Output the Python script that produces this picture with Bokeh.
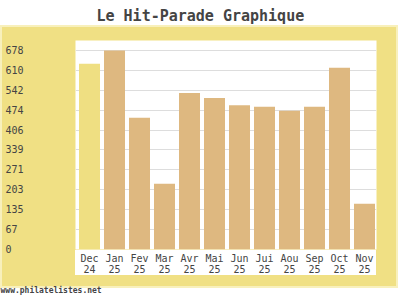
from bokeh.plotting import figure
from bokeh.models import Range1d, FixedTicker, Title
from bokeh.embed import file_html
from bokeh.resources import INLINE

categories = ["Dec\n24", "Jan\n25", "Fev\n25", "Mar\n25", "Avr\n25", "Mai\n25",
              "Jun\n25", "Jui\n25", "Aou\n25", "Sep\n25", "Oct\n25", "Nov\n25"]
values = [633, 678, 449, 224, 533, 516, 491, 486, 473, 486, 619, 156]
y_ticks = [0, 67.8, 135.6, 203.4, 271.2, 339.0, 406.8, 474.6, 542.4, 610.2, 678.0]
y_tick_labels = ["0", "67", "135", "203", "271", "339", "406", "474", "542", "610", "678"]

TAN = "#DEB880"
YEL = "#EFDF82"
colors = [YEL] + [TAN] * (len(values) - 1)
idx = list(range(len(categories)))

SHIFT = 7  # figure is lifted by this many pixels so the title sits near the top
bg = {
    "margin-top": f"-{SHIFT}px",
    "background-image": "linear-gradient(#ffffff,#ffffff), linear-gradient(#F0E084,#F0E084), linear-gradient(#F8F0BC,#F8F0BC)",
    "background-position": f"75px {250 + SHIFT}px, 2px {27 + SHIFT}px, 0px {25 + SHIFT}px",
    "background-size": "301px 25px, 394px 259px, 398px 263px",
    "background-repeat": "no-repeat",
}

p = figure(width=400, height=300 + SHIFT, output_backend="svg", toolbar_location=None,
           x_range=Range1d(-0.56, 11.48), y_range=Range1d(0, 711.9),
           min_border_left=75, min_border_right=24, min_border_top=40 + SHIFT, min_border_bottom=50,
           border_fill_color=None, background_fill_color="white", outline_line_color=None,
           styles=bg)

p.title.text = "Le Hit-Parade Graphique"
p.title.text_font = "DejaVu Sans Mono"
p.title.text_font_size = "15px"
p.title.text_font_style = "bold"
p.title.align = "left"
p.title.offset = 21
p.title.vertical_align = "top"
p.title.standoff = 27

p.vbar(x=idx, top=values, width=0.84, color=colors, line_color=None)

xaxis = p.xaxis[0]
xaxis.ticker = FixedTicker(ticks=idx)
xaxis.major_label_overrides = {i: c for i, c in zip(idx, categories)}
xaxis.axis_line_color = None
xaxis.major_tick_line_color = None
xaxis.minor_tick_line_color = None
xaxis.major_tick_out = 0
xaxis.major_tick_in = 0
xaxis.major_label_text_font = "DejaVu Sans Mono"
xaxis.major_label_text_font_size = "10px"
xaxis.major_label_text_line_height = 1.0
xaxis.major_label_standoff = 3

FS = "\u2007"  # figure space keeps labels left-aligned in a fixed-width font
yaxis = p.yaxis[0]
yaxis.ticker = FixedTicker(ticks=y_ticks)
yaxis.major_label_overrides = {t: l.ljust(3, FS) for t, l in zip(y_ticks, y_tick_labels)}
yaxis.axis_line_color = None
yaxis.major_tick_line_color = None
yaxis.minor_tick_line_color = None
yaxis.major_tick_out = 0
yaxis.major_tick_in = 0
yaxis.major_label_text_font = "DejaVu Sans Mono"
yaxis.major_label_text_font_size = "10px"
yaxis.major_label_standoff = 52

p.ygrid.grid_line_color = "#DDDDDD"
p.xgrid.grid_line_color = None

foot = Title(text="www.philatelistes.net", align="left", offset=-75,
             text_font="DejaVu Sans Mono", text_font_size="8px", text_font_style="bold",
             vertical_align="bottom", standoff=12)
p.add_layout(foot, "below")

open("out.html", "w").write(file_html(p, INLINE))
